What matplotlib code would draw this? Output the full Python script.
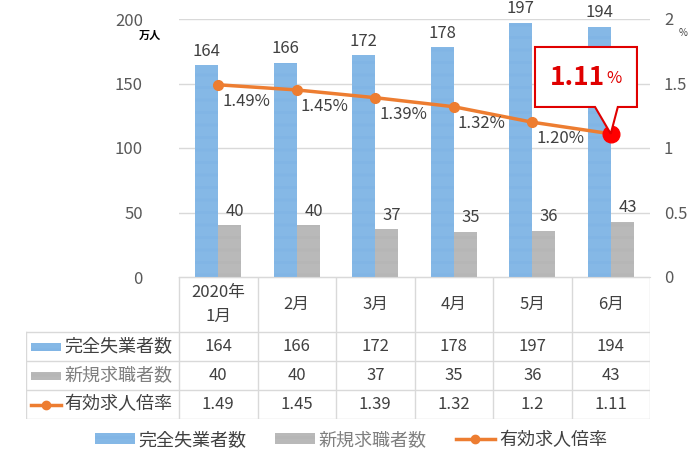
import matplotlib
matplotlib.use("Agg")
import matplotlib.pyplot as plt
from matplotlib.patches import Rectangle, Polygon, Patch
from matplotlib.lines import Line2D

plt.rcParams['font.family'] = ['Noto Sans CJK JP', 'DejaVu Sans']
plt.rcParams['hatch.linewidth'] = 0.5

# データ
months = ["2020年\n1月", "2月", "3月", "4月", "5月", "6月"]
unemployed = [164, 166, 172, 178, 197, 194]      # 完全失業者数 (万人)
new_seekers = [40, 40, 37, 35, 36, 43]           # 新規求職者数 (万人)
job_ratio = [1.49, 1.45, 1.39, 1.32, 1.20, 1.11]  # 有効求人倍率
ratio_table = ["1.49", "1.45", "1.39", "1.32", "1.2", "1.11"]
names = ["完全失業者数", "新規求職者数", "有効求人倍率"]

BLUE = "#5A9AD6"
BLUE_H = "#93C2EC"
GRAY = "#979797"
GRAY_H = "#C4C4C4"
ORANGE = "#ED7D31"
TXT = "#404040"
GRID = "#D9D9D9"
HATCH = "-" * 18

W, H = 700, 468
fig = plt.figure(figsize=(7, 4.68), dpi=100)

x0, x1, ytop, ybot = 179, 650, 19, 277
ax = fig.add_axes([x0 / W, 1 - ybot / H, (x1 - x0) / W, (ybot - ytop) / H])
x = list(range(len(months)))
bw = 0.29
ax.bar([i - bw / 2 for i in x], unemployed, bw, facecolor=BLUE, edgecolor=BLUE_H,
       hatch=HATCH, linewidth=0, zorder=2)
ax.bar([i + bw / 2 for i in x], new_seekers, bw, facecolor=GRAY, edgecolor=GRAY_H,
       hatch=HATCH, linewidth=0, zorder=2)
ax.set_xlim(-0.5, len(months) - 0.5)
ax.set_ylim(0, 200)
ax.set_yticks([0, 50, 100, 150, 200])
ax.tick_params(axis="y", length=0, labelsize=12, labelcolor="#595959", pad=26)
ax.set_xticks([])
ax.grid(axis="y", color=GRID, linewidth=1, zorder=0)
for s in ["top", "right", "left"]:
    ax.spines[s].set_visible(False)
ax.spines["bottom"].set_color(GRID)

for i in x:
    ax.annotate(str(unemployed[i]), (i - bw / 2, unemployed[i]), xytext=(0, 4),
                textcoords="offset points", ha="center", va="bottom",
                fontsize=12, color=TXT, zorder=5)
    ax.annotate(str(new_seekers[i]), (i + bw / 2, new_seekers[i]), xytext=(4, 4),
                textcoords="offset points", ha="center", va="bottom",
                fontsize=12, color=TXT, zorder=5)
fig.text(150 / W, 1 - 35 / H, "万人", fontsize=8, color="#000000",
         ha="center", va="center", weight="bold")

ax2 = ax.twinx()
ax2.plot(x, job_ratio, color=ORANGE, linewidth=2.5, marker="o", markersize=7,
         zorder=4)
ax2.plot(x[-1], job_ratio[-1], "o", color="#FF0000", markersize=12, zorder=6)
ax2.set_ylim(0, 2)
ax2.set_yticks([0, 0.5, 1, 1.5, 2])
ax2.set_yticklabels(["0", "0.5", "1", "1.5", "2"])
ax2.tick_params(axis="y", length=0, labelsize=12, labelcolor="#595959", pad=10)
for s in ["top", "right", "left", "bottom"]:
    ax2.spines[s].set_visible(False)
fig.text(683 / W, 1 - 33 / H, "%", fontsize=7, color="#404040", ha="center",
         va="center")
for i in x[:-1]:
    ax2.annotate(f"{job_ratio[i]:.2f}%", (i, job_ratio[i]), xytext=(3, -12),
                 textcoords="offset points", ha="left", va="center",
                 fontsize=12, color=TXT, zorder=5)

# 吹き出し
tx, ty = x[-1], job_ratio[-1]
callout = Polygon([(tx - 0.965, ty + 0.673), (tx + 0.334, ty + 0.673),
                   (tx + 0.334, ty + 0.208), (tx + 0.09, ty + 0.208),
                   (tx, ty), (tx - 0.20, ty + 0.208),
                   (tx - 0.965, ty + 0.208)],
                  closed=True, facecolor="white", edgecolor="#E00000",
                  linewidth=1.5, zorder=7)
ax2.add_patch(callout)
ax2.text(tx - 0.07, ty + 0.44, f"{job_ratio[-1]:.2f}", fontsize=19,
         weight="bold", color="#E00000", ha="right", va="center", zorder=8)
ax2.text(tx - 0.06, ty + 0.425, "%", fontsize=12, color="#E00000",
         ha="left", va="center", zorder=8)

# データテーブル
tl = 26
tax = fig.add_axes([tl / W, 1 - 419 / H, (x1 - tl) / W, (419 - 277) / H])
cw = (x1 - x0) / len(months)
lab_w = (x0 - tl) / cw
tax.set_xlim(-0.5 - lab_w, len(months) - 0.5)
tax.set_ylim(142, 0)
tax.axis("off")
rows = [0, 55, 84, 113, 142]
left = -0.5 - lab_w
right = len(months) - 0.5
for r in rows[1:]:
    tax.plot([left, right], [r, r], color=GRID, linewidth=1)
tax.plot([-0.5, right], [0, 0], color=GRID, linewidth=1)
tax.plot([left, left], [rows[1], rows[-1]], color=GRID, linewidth=1)
for i in range(len(months) + 1):
    tax.plot([i - 0.5, i - 0.5], [0, rows[-1]], color=GRID, linewidth=1)

for i, m in enumerate(months):
    tax.text(i, rows[0] + 27.5, m, ha="center", va="center", fontsize=12,
             color=TXT, linespacing=1.5)
    tax.text(i, 69.5, str(unemployed[i]), ha="center", va="center",
             fontsize=12, color=TXT)
    tax.text(i, 98.5, str(new_seekers[i]), ha="center", va="center",
             fontsize=12, color=TXT)
    tax.text(i, 127.5, ratio_table[i], ha="center", va="center",
             fontsize=12, color=TXT)

sw0 = left + 5 / cw
sw1 = left + 35 / cw
tax.add_patch(Rectangle((sw0, 65.5), sw1 - sw0, 8, facecolor=BLUE,
                        edgecolor=BLUE_H, hatch=HATCH, linewidth=0))
tax.add_patch(Rectangle((sw0, 94.5), sw1 - sw0, 8, facecolor=GRAY,
                        edgecolor=GRAY_H, hatch=HATCH, linewidth=0))
tax.plot([sw0, sw1], [127.5, 127.5], color=ORANGE, linewidth=2.5)
tax.plot([(sw0 + sw1) / 2], [127.5], "o", color=ORANGE, markersize=6)
lx = left + 38 / cw
tax.text(lx, 69.5, names[0], ha="left", va="center", fontsize=13, color=TXT)
tax.text(lx, 98.5, names[1], ha="left", va="center", fontsize=13,
         color="#7F7F7F")
tax.text(lx, 127.5, names[2], ha="left", va="center", fontsize=13, color=TXT)

# 凡例
handles = [
    Patch(facecolor=BLUE, edgecolor=BLUE_H, hatch=HATCH, linewidth=0),
    Patch(facecolor=GRAY, edgecolor=GRAY_H, hatch=HATCH, linewidth=0),
    Line2D([0], [0], color=ORANGE, linewidth=2.5, marker="o", markersize=6),
]
leg = fig.legend(handles, names, loc="center", bbox_to_anchor=(351 / W, 1 - 440 / H),
                 ncol=3, frameon=False, fontsize=13, handlelength=2.2,
                 handleheight=0.5, handletextpad=0.2, columnspacing=1.6)
leg.get_texts()[0].set_color(TXT)
leg.get_texts()[1].set_color("#7F7F7F")
leg.get_texts()[2].set_color(TXT)

fig.savefig("out.png", dpi=100, facecolor="white")
